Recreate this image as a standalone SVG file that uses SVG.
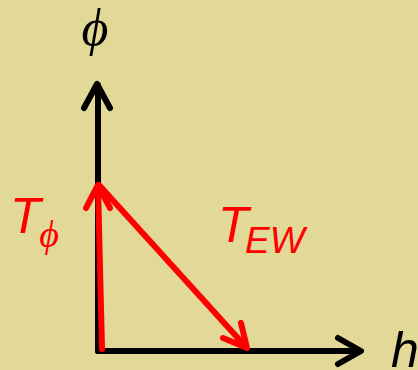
<svg xmlns="http://www.w3.org/2000/svg" width="418" height="370" viewBox="0 0 418 370">
<style>
.ax{fill:none;stroke:#000;stroke-width:6;stroke-linecap:round;stroke-linejoin:round}
.rd{fill:none;stroke:#ff0000;stroke-width:6;stroke-linecap:round;stroke-linejoin:round}
.lbl{font-family:"Liberation Sans",Arial,sans-serif;font-style:italic}
.sym{font-family:"Liberation Serif","Times New Roman",serif;font-style:italic}
</style>
<rect width="418" height="370" fill="#e2d898"/>
<g id="axes">
<path class="ax" d="M98,351 L98,85 M84,108 L97,84 L110,108"/>
<path class="ax" d="M98,351 L360,351 M338,338 L361,351 L338,364"/>
</g>
<g id="connectors">
<path class="rd" d="M102,349 L98,186 M86,208 L98,185 L110,208"/>
<path class="rd" d="M99,185 L246,347 M223,338 L247,348 L241,323"/>
</g>
<g id="labels">
<text class="sym" x="95" y="45" font-size="52" text-anchor="middle">ϕ</text>
<text class="lbl" x="391" y="367" font-size="50">h</text>
<text class="lbl" x="10" y="233" font-size="50" fill="#ff0000">T</text>
<text class="sym" x="49" y="247" font-size="38" fill="#ff0000" text-anchor="middle">ϕ</text>
<text class="lbl" x="218" y="242" font-size="50" fill="#ff0000">T</text>
<text class="lbl" x="245" y="253" font-size="37" fill="#ff0000">EW</text>
</g>
</svg>
